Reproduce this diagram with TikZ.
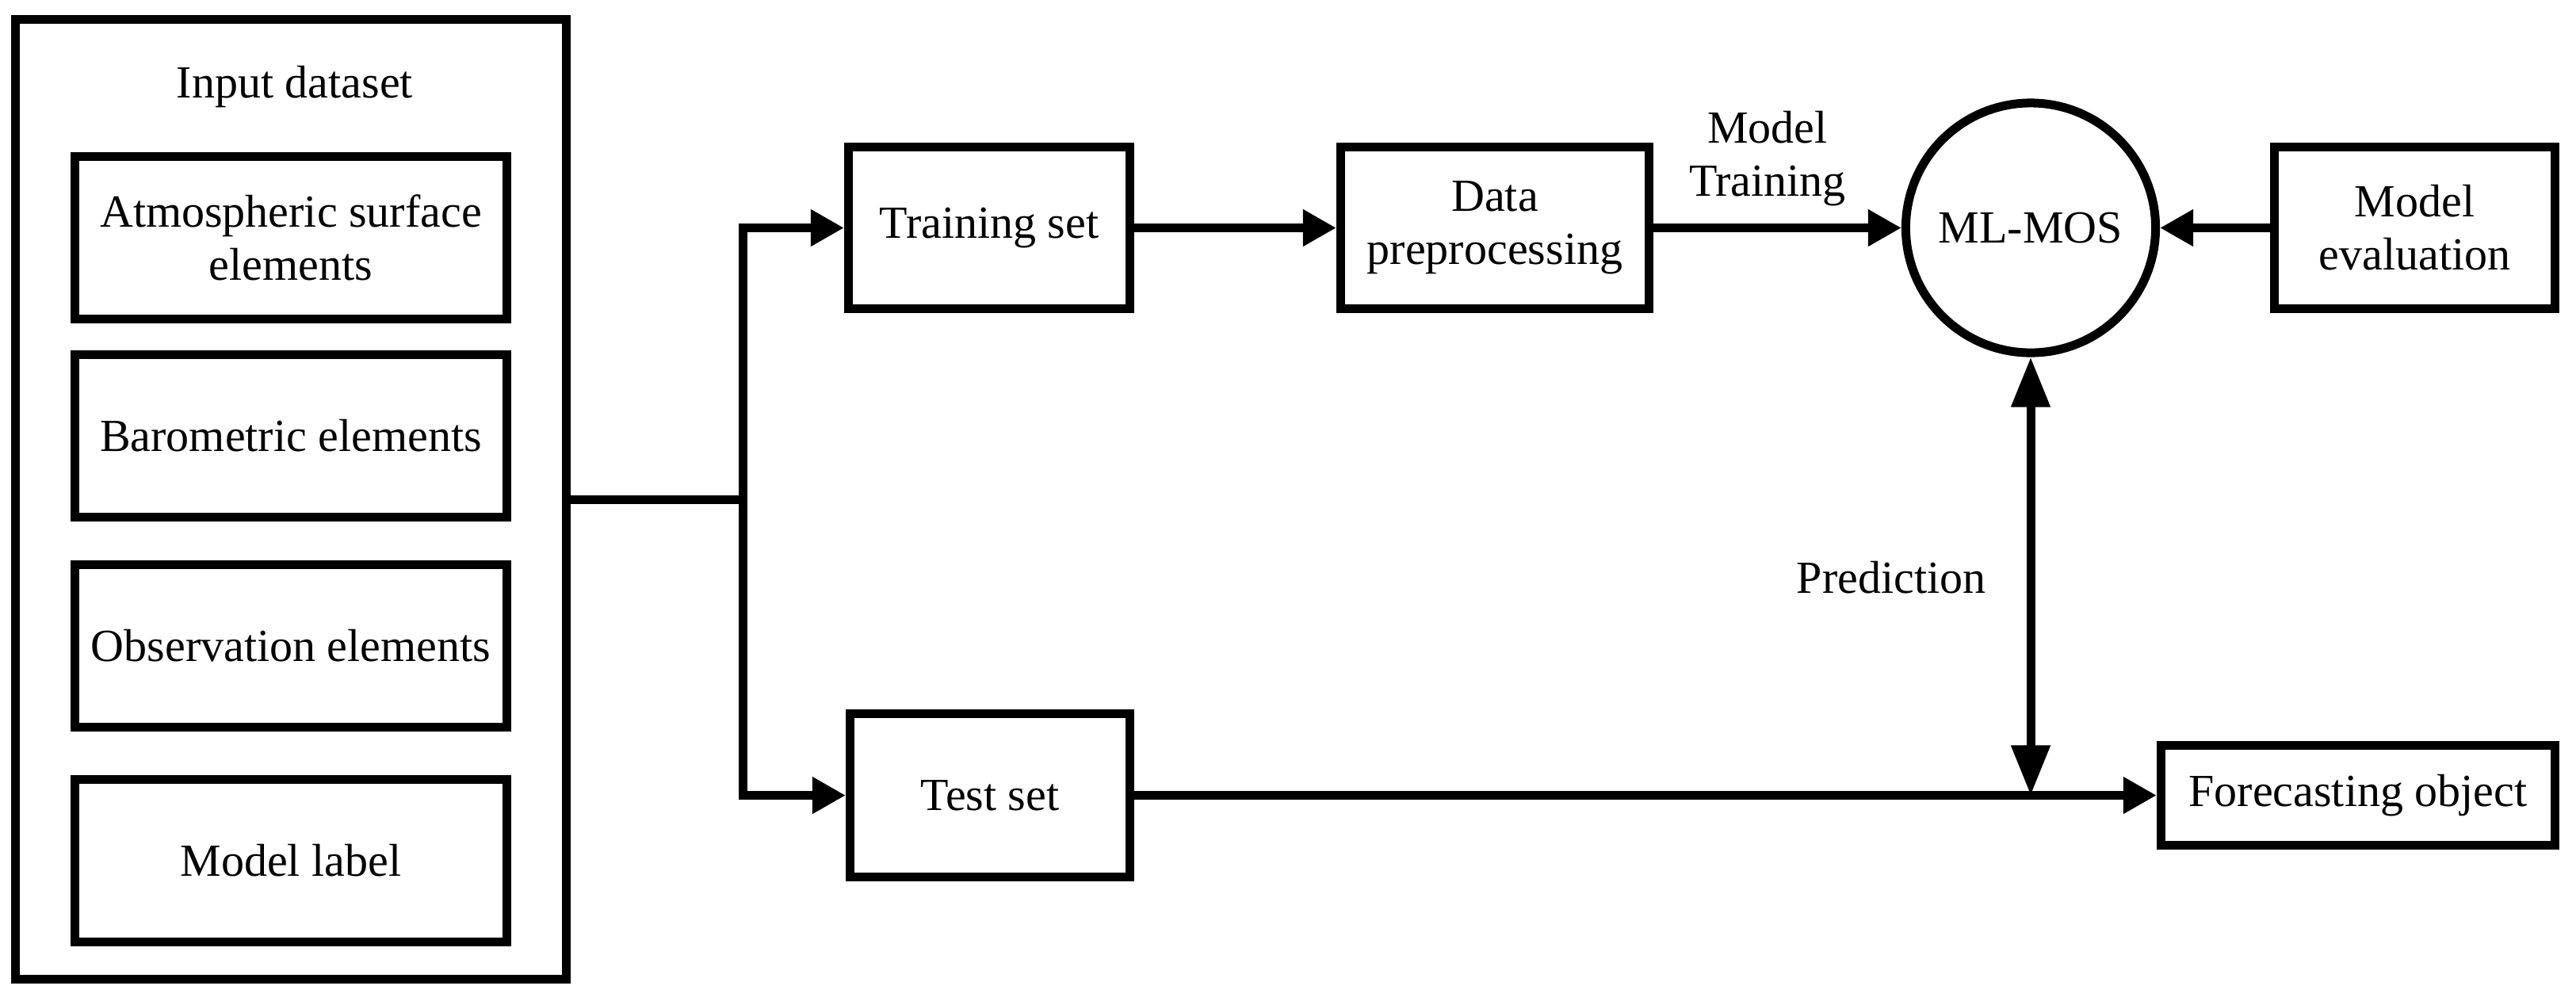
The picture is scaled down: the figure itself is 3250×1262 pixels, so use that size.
\documentclass[tikz,border=0pt]{standalone}
\usepackage{fontspec}
\setmainfont{Liberation Serif}
\usetikzlibrary{arrows.meta}
\begin{document}
\begin{tikzpicture}[x=0.01cm, y=-0.01cm, line width=0.11cm,
  every node/.style={font=\fontsize{16.5}{19}\selectfont},
  box/.style={draw, rectangle, inner sep=0pt, align=center},
  harrow/.style={-{Triangle[length=0.42cm,width=0.44cm]}},
  varrows/.style={{Triangle[length=0.63cm,width=0.47cm]}-{Triangle[length=0.63cm,width=0.47cm]}}]
\useasboundingbox (0,0) rectangle (3250,1262);
% input dataset group
\node[box, minimum width=6.95cm, minimum height=12.11cm] (outer) at (367,630) {};
\node[anchor=base] (title) at (372,123) {Input dataset};
\node[box, minimum width=5.45cm, minimum height=2.05cm] (atm) at (367,300) {Atmospheric surface\\elements};
\node[box, minimum width=5.45cm, minimum height=2.05cm] (baro) at (367,550) {Barometric elements};
\node[box, minimum width=5.45cm, minimum height=2.05cm] (obs) at (367,815) {Observation elements};
\node[box, minimum width=5.45cm, minimum height=2.05cm] (mlab) at (367,1086) {Model label};
% main flow
\node[box, minimum width=3.55cm, minimum height=2.04cm] (train) at (1248,287.5) {Training set};
\node[box, minimum width=3.53cm, minimum height=2.06cm] (test) at (1249,1003.5) {Test set};
\node[box, minimum width=3.89cm, minimum height=2.04cm] (data) at (1886,287.5) {Data\\preprocessing};
\node[draw, circle, inner sep=0pt, minimum size=3.15cm] (mlmos) at (2562,287.5) {ML-MOS};
\node[box, minimum width=3.54cm, minimum height=2.04cm] (eval) at (3046.5,287.5) {Model\\evaluation};
\node[box, minimum width=4.97cm, minimum height=1.26cm] (fore) at (2975,1003.5) {Forecasting object};
% labels
\node[align=center] (mt) at (2230,200) {Model\\Training};
\node[anchor=base] (pred) at (2386,748) {Prediction};
% connectors
\coordinate (split) at (937,630);
\draw (outer.east) -- (split);
\draw[harrow] (split) |- (train.west);
\draw[harrow] (split) |- (test.west);
\draw[harrow] (train) -- (data);
\draw[harrow] (data) -- (mlmos);
\draw[harrow] (eval) -- (mlmos);
\draw[harrow] (test) -- (fore);
\coordinate (pj) at (mlmos.south |- test.east);
\draw[varrows] (mlmos.south) -- (pj);
\end{tikzpicture}
\end{document}
